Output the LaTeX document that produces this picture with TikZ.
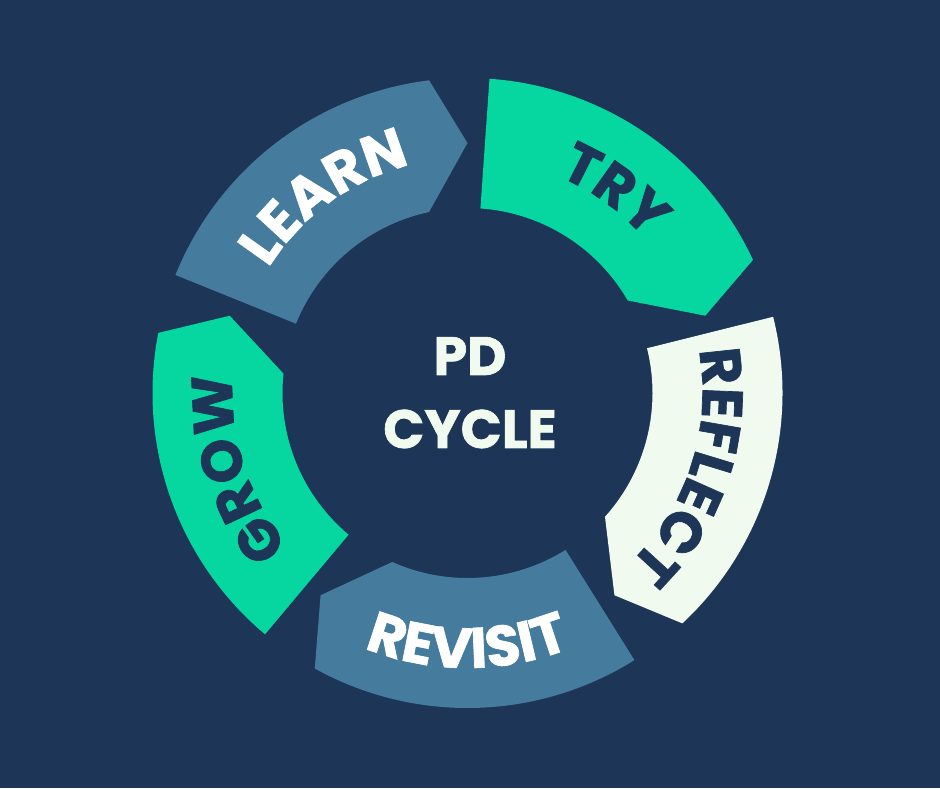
\documentclass[tikz,border=0pt]{standalone}
\usepackage{fontspec}
\usetikzlibrary{decorations.text}
\newfontfamily\pop{Poppins}[BoldFeatures={FakeBold=1.2}]
\definecolor{navy}{HTML}{1D3557}
\definecolor{steel}{HTML}{457B9D}
\definecolor{mint}{HTML}{06D6A0}
\definecolor{honey}{HTML}{F1FAEE}
\newcommand\lblfont{\pop\bfseries\fontsize{57}{62}\selectfont}
\newcommand\ctrfont{\pop\bfseries\fontsize{54}{60}\selectfont}
% segment: #1 tail angle, #2 fill colour
\newcommand\segment[2]{%
  \fill[#2] (#1:315pt) arc[start angle=#1, end angle=#1-61, radius=315pt]
    -- (#1-68:250pt) -- (#1-56:185pt)
    arc[start angle=#1-56, end angle=#1, radius=185pt] -- cycle;}
% clockwise label: #1 centre angle, #2 colour, #3 text
\newcommand\cwlabel[3]{%
  \path[decorate, decoration={text along path, text color=#2,
      text={|\lblfont|#3}, text align=center}]
    (#1+45:235pt) arc[start angle=#1+45, end angle=#1-45, radius=235pt];}
\begin{document}
\begin{tikzpicture}[x=1pt,y=1pt]
\fill[navy] (0,0) rectangle (940,788);
\useasboundingbox (0,0) rectangle (940,788);
\begin{scope}[shift={(467.5,395)}]
  \coordinate (C) at (0,0);
  \segment{158}{steel}
  \segment{86}{mint}
  \segment{14}{honey}
  \segment{-58}{steel}
  \segment{-130}{mint}
  \cwlabel{126}{white}{LEARN}
  \cwlabel{54}{navy}{TRY}
  \cwlabel{-18}{navy}{REFLECT}
  \cwlabel{-162}{navy}{GROW}
  \path[decorate, decoration={text along path, text color=white,
      text={|\lblfont|REVISIT}, text align=center}]
    (-135:275pt) arc[start angle=-135, end angle=-45, radius=275pt];
\end{scope}
\node[anchor=base, text=honey, font=\ctrfont, inner sep=0] (pd) at (470,413) {PD};
\node[anchor=base, text=honey, font=\ctrfont, inner sep=0] (cycle) at (470,340) {CYCLE};
\end{tikzpicture}
\end{document}
